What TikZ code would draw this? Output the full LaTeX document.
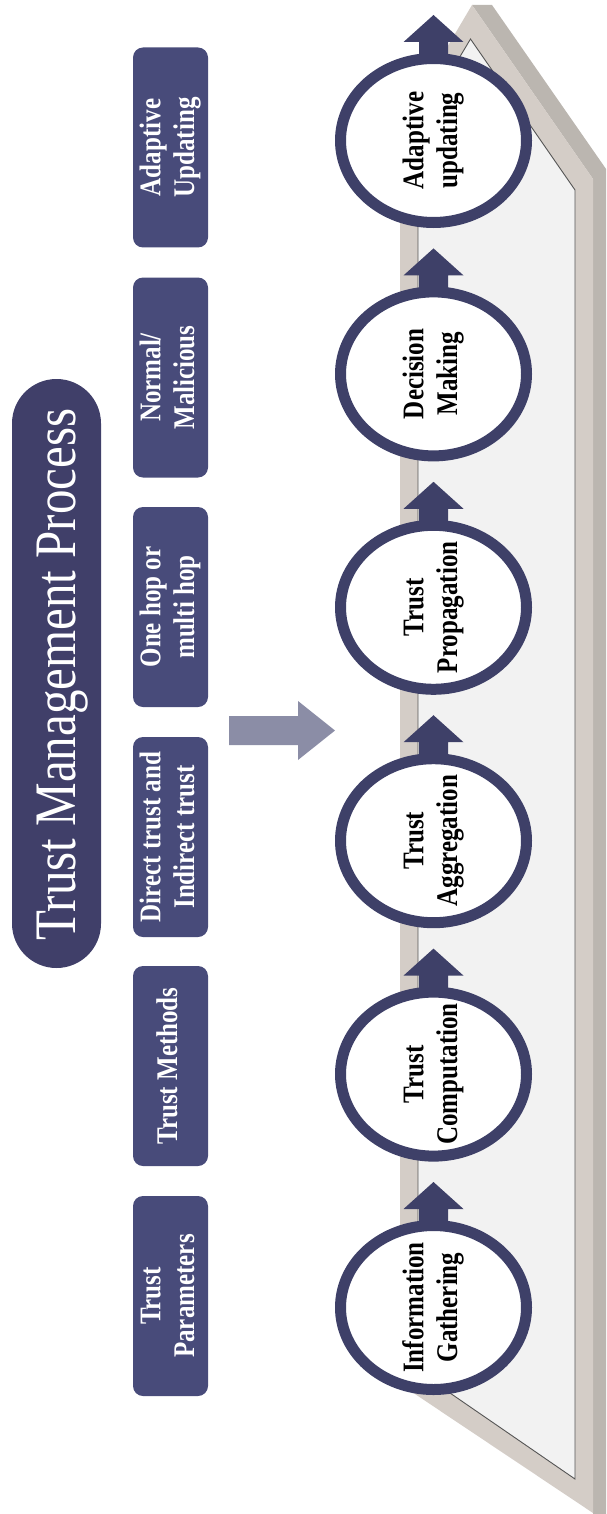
\documentclass[tikz,border=0pt]{standalone}
\usepackage{fontspec}
\setmainfont{Liberation Serif}
\usetikzlibrary{shapes.geometric}
\definecolor{navy}{HTML}{3E4068}
\definecolor{boxnavy}{HTML}{484B7A}
\definecolor{titlenavy}{HTML}{403F69}
\definecolor{frameA}{HTML}{D4CDC7}
\definecolor{frameB}{HTML}{BBB6B0}
\definecolor{faceC}{HTML}{F2F2F2}
\definecolor{faceline}{HTML}{555555}
\definecolor{bigarrow}{HTML}{8B8DA6}
\newcommand{\vtext}[1]{\rotatebox{90}{\scalebox{1}[1.2]{\fontsize{25}{28}\selectfont\begin{tabular}{@{}c@{}}#1\end{tabular}}}}
\newcommand{\uparr}[1]{\fill[navy, shift={(#1.center)}] (-14.5,-82) -- (-14.5,-98.5) -- (-30,-98.5) -- (0,-125.5) -- (30,-98.5) -- (14.5,-98.5) -- (14.5,-82) -- cycle;}
\begin{document}
\begin{tikzpicture}[x=1pt,y=-1pt,
  ring/.style={ellipse, draw=navy, fill=white, line width=11pt, minimum width=186pt, minimum height=164pt, inner sep=0pt},
  rtext/.style={inner sep=0pt, font=\bfseries, text=black},
  sbox/.style={fill=boxnavy, rounded corners=10pt, minimum width=75pt, minimum height=200pt, inner sep=0pt, text=white, font=\bfseries},
  tbox/.style={fill=titlenavy, rounded corners=44.5pt, minimum width=89pt, minimum height=589pt, inner sep=0pt}]
\useasboundingbox (0,0) rectangle (606,1514);
% 3D plane
\begin{scope}
\clip (0,0) rectangle (606,1514);
\fill[frameB] (472,5) -- (492,5) -- (613,179) -- (613,1520) -- (593,1520) -- (593,179) -- cycle;
\fill[frameA] (400,127) -- (472,5) -- (593,179) -- (593,1513) -- (400,1384) -- cycle;
\filldraw[fill=faceC, draw=faceline, line width=0.9pt] (418,127) -- (470.5,39) -- (575,190) -- (575,1479) -- (418,1371) -- cycle;
\end{scope}
% title
\node[tbox] (tb) at (56.5,673.5) {};
\node[rotate=90, anchor=base, text=white, inner sep=0pt] (tt) at (75,674.5) {\scalebox{1}[1.2]{\fontsize{49}{55}\selectfont Trust Management Process}};
% left boxes
\node[sbox] (b1) at (170.5,147.5) {\vtext{Adaptive\\Updating}};
\node[sbox] (b2) at (170.5,377.5) {\vtext{Normal/\\Malicious}};
\node[sbox] (b3) at (170.5,607) {\vtext{One hop or\\multi hop}};
\node[sbox] (b4) at (170.5,837) {\vtext{Direct trust and\\Indirect trust}};
\node[sbox] (b5) at (170.5,1066) {\vtext{Trust Methods}};
\node[sbox] (b6) at (170.5,1296) {\vtext{Trust\\Parameters}};
% big arrow
\fill[bigarrow] (229,716) -- (298,716) -- (298,701) -- (335,730.5) -- (298,760) -- (298,745) -- (229,745) -- cycle;
% ellipses
\node[ring] (e1) at (433.5,140.5) {};
\node[ring] (e2) at (433.5,373.9) {};
\node[ring] (e3) at (433.5,607.3) {};
\node[ring] (e4) at (433.5,840.7) {};
\node[ring] (e5) at (433.5,1074.1) {};
\node[ring] (e6) at (433.5,1307.5) {};
\uparr{e1}\uparr{e2}\uparr{e3}\uparr{e4}\uparr{e5}\uparr{e6}
\node[rtext] (t1) at (e1.center) {\vtext{Adaptive\\updating}};
\node[rtext] (t2) at (e2.center) {\vtext{Decision\\Making}};
\node[rtext] (t3) at (e3.center) {\vtext{Trust\\Propagation}};
\node[rtext] (t4) at (e4.center) {\vtext{Trust\\Aggregation}};
\node[rtext] (t5) at (e5.center) {\vtext{Trust\\Computation}};
\node[rtext] (t6) at (e6.center) {\vtext{Information\\Gathering}};
\end{tikzpicture}
\end{document}
